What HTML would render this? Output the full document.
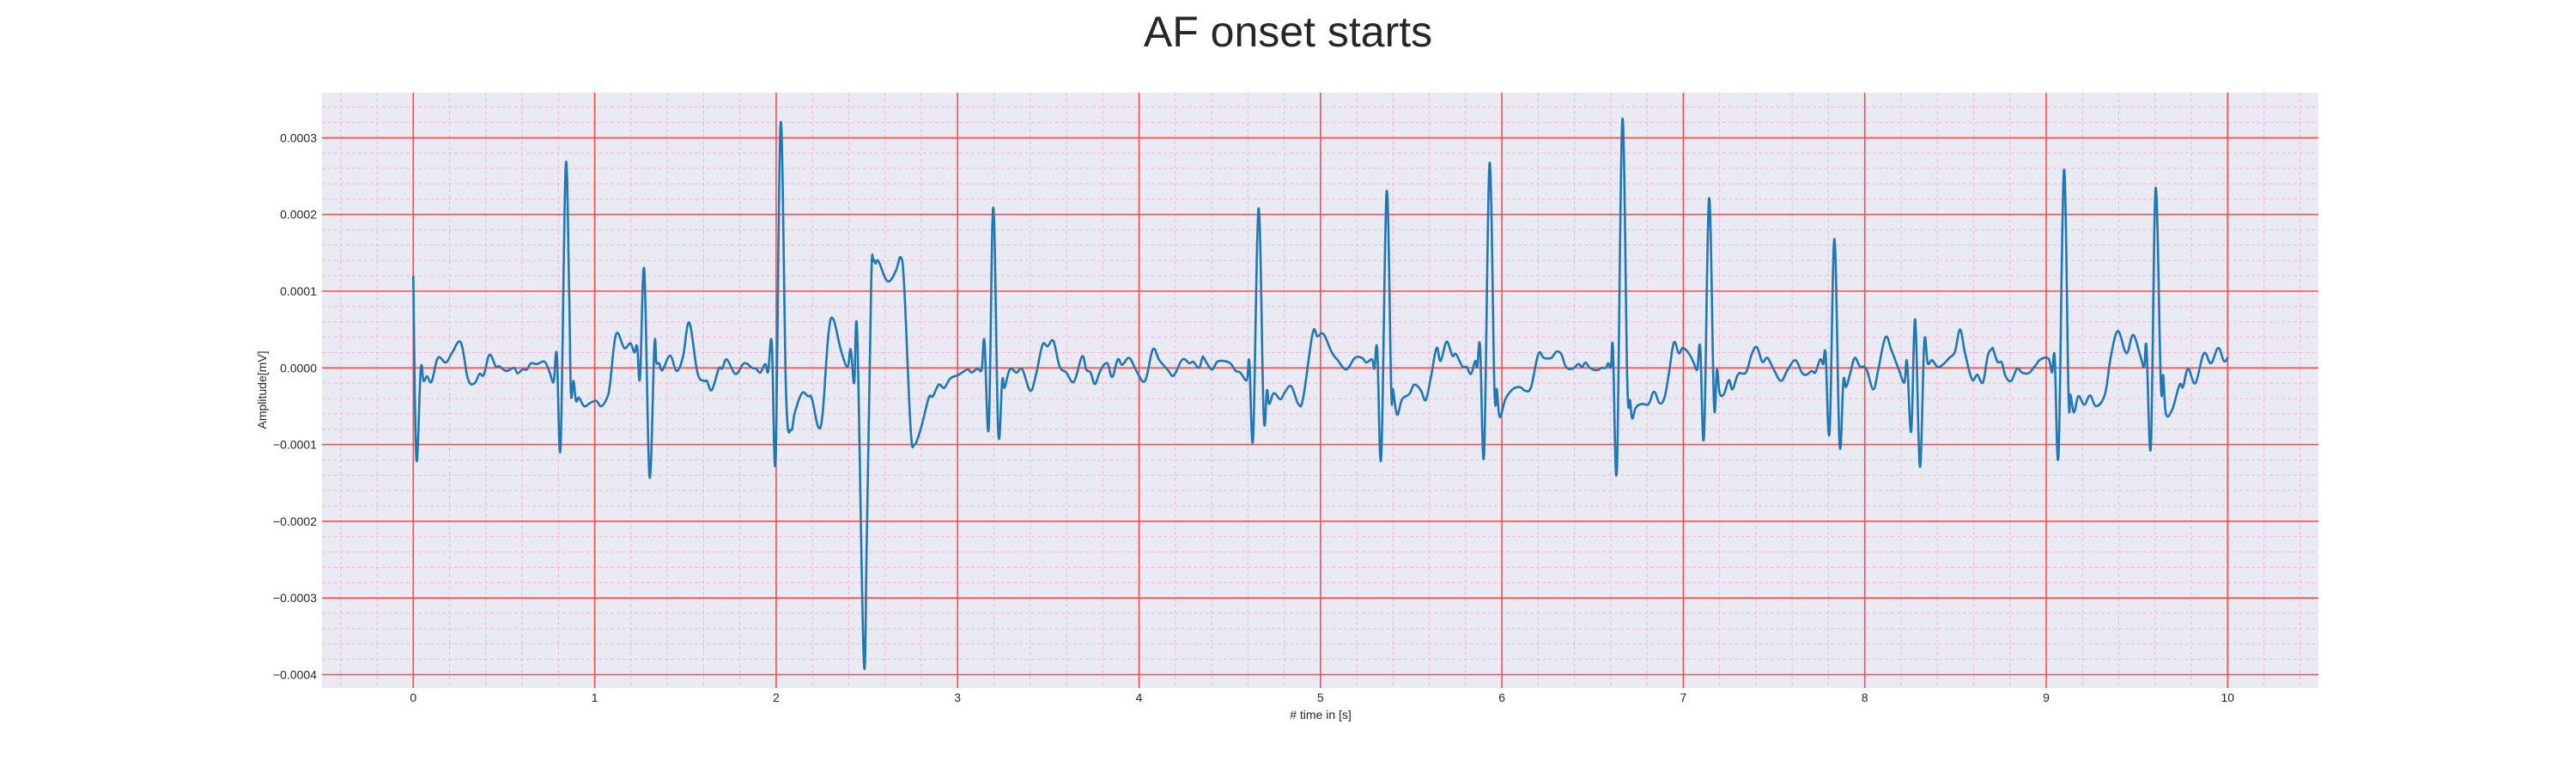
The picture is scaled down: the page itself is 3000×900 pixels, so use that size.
<!DOCTYPE html>
<html>
<head>
<meta charset="utf-8">
<style>
  html,body{margin:0;padding:0;background:#ffffff;}
  body{width:3000px;height:900px;overflow:hidden;font-family:"Liberation Sans",Arial,sans-serif;}
  svg{display:block;}
  text{font-family:"Liberation Sans",Arial,sans-serif;fill:#262626;}
</style>
</head>
<body>
<svg id="chart" width="3000" height="900" viewBox="0 0 3000 900" xmlns="http://www.w3.org/2000/svg">
  <text x="1500" y="54" font-size="50" text-anchor="middle">AF onset starts</text>
  <rect x="375" y="108" width="2325" height="693" fill="#eaeaf2"></rect>
  <g id="minor-grid"></g>
  <g id="major-grid"></g>
  <g id="x-ticks"></g>
  <g id="y-ticks"></g>
  <text x="1538" y="837" font-size="14" text-anchor="middle"># time in [s]</text>
  <text x="0" y="0" font-size="14" text-anchor="middle" transform="translate(310,454) rotate(-90)">Amplitude[mV]</text>
  <g id="series"></g>
</svg>
<script>
// ---- data ----
const xTickValues = [0,1,2,3,4,5,6,7,8,9,10];
const xTickLabels = ["0","1","2","3","4","5","6","7","8","9","10"];
const yTickValues = [-0.0004,-0.0003,-0.0002,-0.0001,0,0.0001,0.0002,0.0003];
const yTickLabels = ["\u22120.0004","\u22120.0003","\u22120.0002","\u22120.0001","0.0000","0.0001","0.0002","0.0003"];
const timeS = [0,0.017,0.041,0.057,0.076,0.101,0.136,0.18,0.215,0.262,0.302,0.338,0.365,0.389,0.42,0.455,0.475,0.512,0.555,0.575,0.602,0.626,0.649,0.681,0.724,0.752,0.774,0.791,0.812,0.84,0.859,0.869,0.883,0.897,0.913,0.942,0.973,1.008,1.036,1.068,1.084,1.118,1.163,1.197,1.218,1.234,1.25,1.273,1.302,1.329,1.34,1.355,1.373,1.415,1.452,1.487,1.521,1.566,1.602,1.618,1.645,1.684,1.703,1.728,1.776,1.818,1.842,1.866,1.889,1.913,1.94,1.956,1.976,1.997,2.025,2.055,2.082,2.103,2.142,2.174,
2.197,2.232,2.256,2.288,2.314,2.355,2.393,2.411,2.43,2.447,2.483,2.5,2.524,2.535,2.548,2.564,2.614,2.659,2.687,2.706,2.741,2.763,2.801,2.841,2.864,2.896,2.927,2.959,3.006,3.054,3.077,3.109,3.133,3.148,3.172,3.197,3.224,3.246,3.259,3.288,3.325,3.357,3.401,3.433,3.468,3.496,3.528,3.562,3.599,3.641,3.686,3.709,3.733,3.757,3.788,3.825,3.852,3.883,3.907,3.946,3.986,4.033,4.076,4.112,4.16,4.191,4.239,4.278,4.299,4.33,4.349,
4.357,4.4,4.431,4.468,4.502,4.534,4.558,4.594,4.608,4.629,4.659,4.687,4.705,4.717,4.743,4.779,4.803,4.839,4.878,4.905,4.957,4.984,5.017,5.063,5.095,5.142,5.19,5.229,5.253,5.284,5.297,5.313,5.335,5.365,5.39,5.4,5.422,5.45,5.49,5.517,5.553,5.58,5.608,5.64,5.662,5.695,5.727,5.747,5.782,5.806,5.829,5.853,5.864,5.88,5.902,5.932,5.959,5.972,5.988,6.019,6.059,6.098,6.13,6.161,6.201,6.232,6.272,6.3,6.327,6.354,6.39,6.422,6.442,6.461,6.485,6.524,
6.549,6.573,6.585,6.601,6.612,6.634,6.664,6.691,6.707,6.718,6.738,6.77,6.809,6.838,6.869,6.896,6.92,6.948,6.975,6.998,7.033,7.058,7.077,7.093,7.114,7.142,7.169,7.185,7.2,7.224,7.251,7.271,7.303,7.345,7.377,7.405,7.435,7.464,7.5,7.539,7.574,7.617,7.653,7.677,7.708,7.727,7.755,7.771,7.784,7.806,7.833,7.861,7.882,7.897,7.921,7.945,7.973,8.008,8.047,8.074,8.114,8.147,8.189,8.218,8.233,8.256,8.278,8.304,8.328,8.347,8.371,8.402,8.434,8.465,8.497,8.525,8.552,8.591,8.62,8.651,8.678,8.702,
8.708,8.731,8.755,8.776,8.807,8.839,8.866,8.902,8.937,8.968,9.013,9.032,9.047,9.068,9.098,9.123,9.134,9.153,9.177,9.21,9.242,9.276,9.324,9.355,9.395,9.442,9.479,9.518,9.54,9.553,9.577,9.603,9.632,9.645,9.66,9.695,9.735,9.754,9.782,9.822,9.869,9.908,9.948,9.979,10.0];
// amplitude in units of 1e-4 mV
const amplitudeE4 = [1.19,-1.19,-0.02,-0.17,-0.11,-0.18,0.13,0.07,0.20,0.33,-0.15,-0.20,-0.08,-0.09,0.17,0.02,0.02,-0.04,0,-0.07,-0.02,-0.02,0.06,0.05,0.08,-0.06,-0.18,0.18,-1.02,2.63,1.0,-0.33,-0.17,-0.43,-0.39,-0.50,-0.46,-0.43,-0.50,-0.39,-0.22,0.44,0.26,0.32,0.20,0.28,-0.13,1.28,-1.42,0.29,0.07,0.06,-0.03,0.16,-0.04,0.15,0.59,-0.06,-0.17,-0.17,-0.29,-0.01,-0.01,0.11,-0.08,0.05,0.05,0.00,-0.01,-0.06,0.05,-0.05,0.33,-1.19,3.20,-0.36,-0.81,-0.58,-0.33,-0.37,
-0.40,-0.77,-0.60,0.44,0.64,0.25,0.01,0.24,-0.20,0.42,-3.82,-2.2,1.10,1.40,1.36,1.39,1.13,1.26,1.44,1.05,-0.79,-1.0,-0.76,-0.39,-0.37,-0.22,-0.26,-0.14,-0.09,-0.02,-0.06,-0.01,-0.02,0.35,-0.78,2.09,-0.83,-0.16,-0.26,-0.02,-0.06,-0.02,-0.30,-0.08,0.30,0.28,0.35,0.02,-0.06,-0.18,0.15,-0.02,-0.06,-0.21,-0.03,0.06,-0.12,0.11,0.04,0.13,-0.04,-0.17,0.24,0.10,-0.03,-0.10,0.11,0.06,0.08,0.00,0.13,
0.13,-0.02,0.08,0.09,0.06,-0.04,-0.06,-0.16,0.08,-0.91,2.08,-0.62,-0.29,-0.47,-0.33,-0.41,-0.32,-0.24,-0.47,-0.39,0.45,0.41,0.44,0.20,0.10,-0.02,0.13,0.13,0.07,0.11,-0.01,0.24,-1.16,2.30,-0.29,-0.28,-0.61,-0.41,-0.34,-0.22,-0.29,-0.42,-0.13,0.26,0.09,0.34,0.16,0.18,0.02,0.01,-0.08,0.09,0.01,0.28,-1.12,2.67,-0.27,-0.28,-0.64,-0.41,-0.28,-0.25,-0.30,-0.25,0.18,0.13,0.13,0.21,0.18,0.01,-0.01,0.05,0.01,0.07,0.00,-0.03,
0.0,0.0,0.06,0.01,0.26,-1.31,3.24,-0.17,-0.43,-0.66,-0.52,-0.47,-0.47,-0.31,-0.46,-0.39,-0.08,0.33,0.19,0.26,0.18,0.06,-0.02,0.27,-0.89,2.21,-0.47,-0.02,-0.33,-0.34,-0.16,-0.28,-0.08,-0.06,0.18,0.27,0.08,0.13,-0.03,-0.17,-0.03,0.10,-0.06,-0.09,-0.04,-0.06,0.11,0.05,0.18,-0.84,1.68,-0.99,-0.17,-0.25,-0.06,0.13,0.02,-0.01,-0.28,-0.03,0.40,0.23,-0.03,-0.19,0.08,-0.83,0.63,-1.29,0.33,0.06,0.10,0.01,0.05,0.13,0.21,0.50,0.20,-0.15,-0.09,-0.19,0.16,0.25,
0.24,0.08,0.07,-0.11,-0.17,-0.01,-0.06,-0.07,0.02,0.11,0.12,-0.06,0.14,-1.12,2.58,-0.36,-0.35,-0.58,-0.37,-0.48,-0.36,-0.50,-0.34,0.13,0.48,0.19,0.43,0.16,0.01,0.27,-1.02,2.34,-0.21,-0.10,-0.60,-0.54,-0.22,-0.25,-0.01,-0.20,0.19,0.06,0.26,0.09,0.13];

// ---- axes ----
const NS = "http://www.w3.org/2000/svg";
const PL = 375, PR = 2700, PT = 108, PB = 801;
const X0 = 481.3, XS = 211.3;      // px per second
const Y0 = 428.3, YS = 893000;     // px per mV
function xScale(t){ return X0 + t * XS; }
function yScale(v){ return Y0 - v * YS; }
const tMin = (PL - X0) / XS, tMax = (PR - X0) / XS;
const vMax = (Y0 - PT) / YS, vMin = (Y0 - PB) / YS;

function mk(tag, attrs, parent){
  const el = document.createElementNS(NS, tag);
  for (const k in attrs) el.setAttribute(k, attrs[k]);
  parent.appendChild(el);
  return el;
}

// minor grid
const minorG = document.getElementById('minor-grid');
for (let i = Math.ceil(tMin / 0.2); i * 0.2 <= tMax; i++) {
  if (i % 5 === 0) continue;
  const x = xScale(i * 0.2);
  const l = mk('line', {x1:x, x2:x, y1:PT, y2:PB, stroke:'#f4b3e4', 'stroke-width':1, 'stroke-dasharray':'4,3'}, minorG);
  
  
}
for (let i = Math.ceil(vMin / 0.00002); i * 0.00002 <= vMax; i++) {
  if (i % 5 === 0) continue;
  const y = yScale(i * 0.00002);
  const l = mk('line', {x1:PL, x2:PR, y1:y, y2:y, stroke:'#f4b3e4', 'stroke-width':1, 'stroke-dasharray':'4,3'}, minorG);
  
  
}

// major grid + tick labels
const majorG = document.getElementById('major-grid');
const xTG = document.getElementById('x-ticks');
const yTG = document.getElementById('y-ticks');
xTickValues.forEach((t, i) => {
  const x = xScale(t);
  const l = mk('line', {x1:x, x2:x, y1:PT, y2:PB, stroke:'#ff4a4a', 'stroke-width':1.6}, majorG);
  
  
  const tx = mk('text', {x:x, y:817, 'font-size':14, 'text-anchor':'middle'}, xTG);
  tx.textContent = xTickLabels[i];
  
  
});
yTickValues.forEach((v, i) => {
  const y = yScale(v);
  const l = mk('line', {x1:PL, x2:PR, y1:y, y2:y, stroke:'#ff4a4a', 'stroke-width':1.6}, majorG);
  
  
  const tx = mk('text', {x:369, y:y + 5, 'font-size':14, 'text-anchor':'end'}, yTG);
  tx.textContent = yTickLabels[i];
  
  
});

// series (smooth Catmull-Rom path)
const P = timeS.map((t, i) => [xScale(t), yScale(amplitudeE4[i] * 1e-4)]);
let d = 'M' + P[0][0].toFixed(1) + ',' + P[0][1].toFixed(1);
const k = 0.18;
for (let i = 0; i < P.length - 1; i++) {
  const p0 = P[Math.max(0, i - 1)], p1 = P[i], p2 = P[i + 1], p3 = P[Math.min(P.length - 1, i + 2)];
  const c1x = p1[0] + (p2[0] - p0[0]) * k, c1y = p1[1] + (p2[1] - p0[1]) * k;
  const c2x = p2[0] - (p3[0] - p1[0]) * k, c2y = p2[1] - (p3[1] - p1[1]) * k;
  d += ' C' + c1x.toFixed(1) + ',' + c1y.toFixed(1) + ' ' + c2x.toFixed(1) + ',' + c2y.toFixed(1) + ' ' + p2[0].toFixed(1) + ',' + p2[1].toFixed(1);
}
const line = mk('path', {d:d, fill:'none', stroke:'#1f77b4', 'stroke-width':2.6, 'stroke-linejoin':'round', 'stroke-linecap':'round'}, document.getElementById('series'));


</script>
</body>
</html>
